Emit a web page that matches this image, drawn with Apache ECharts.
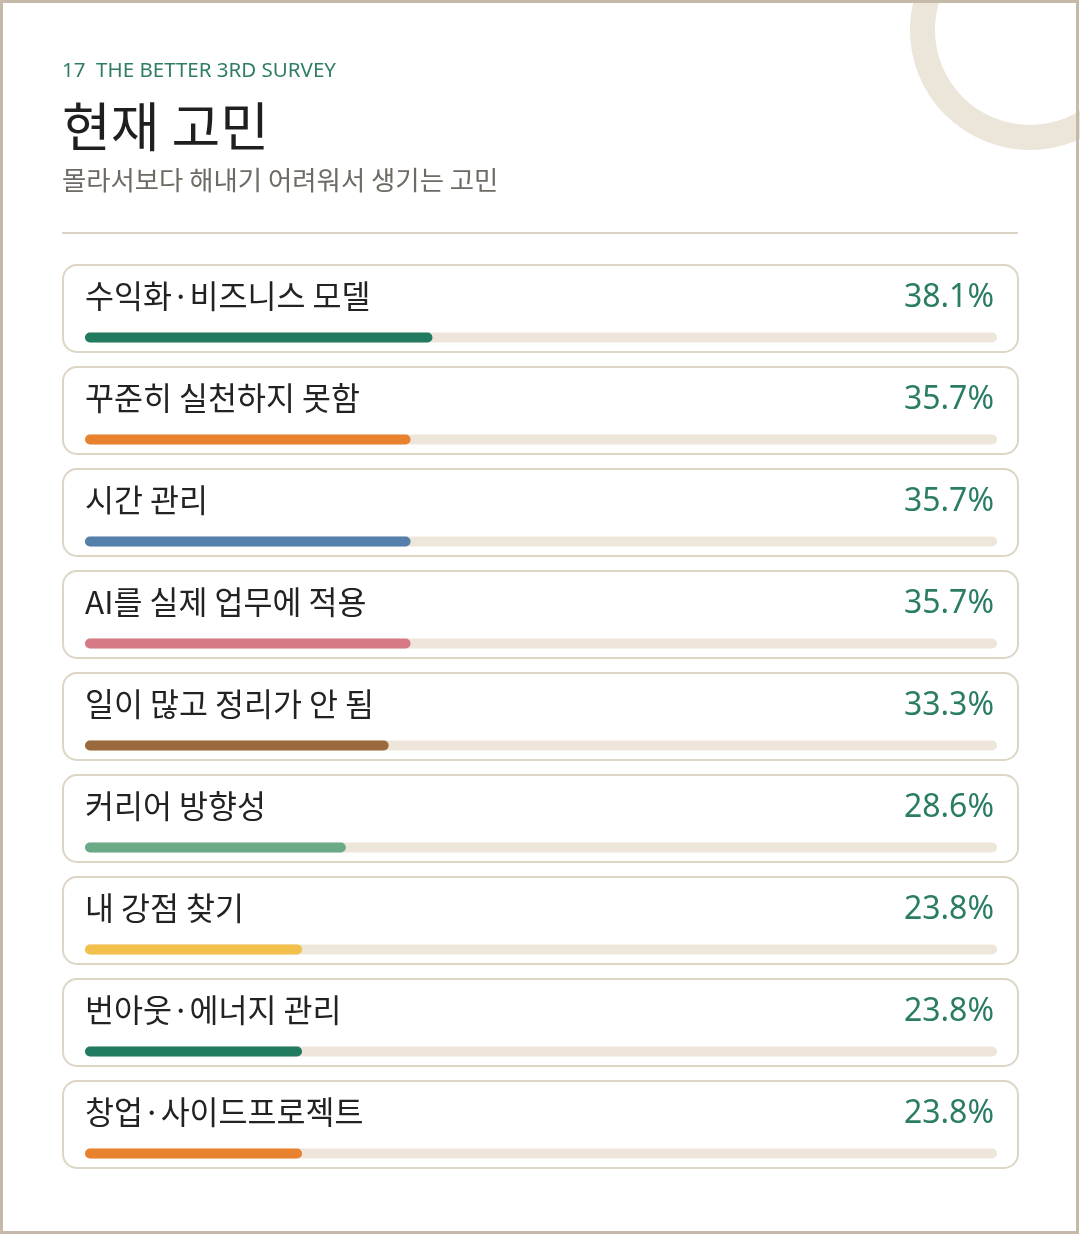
<!DOCTYPE html>
<html>
<head>
<meta charset="utf-8">
<script src="https://cdn.jsdelivr.net/npm/echarts@6/dist/echarts.min.js"></script>
<style>
  html, body { margin: 0; padding: 0; background: #ffffff; }
  #chart { width: 1080px; height: 1236px; }
</style>
</head>
<body>
<div id="chart"></div>
<script>
// 고민 항목
var categories = [
    '수익화·비즈니스 모델',
    '꾸준히 실천하지 못함',
    '시간 관리',
    'AI를 실제 업무에 적용',
    '일이 많고 정리가 안 됨',
    '커리어 방향성',
    '내 강점 찾기',
    '번아웃·에너지 관리',
    '창업·사이드프로젝트'
];
// 응답 비율 (%)
var values = [38.1, 35.7, 35.7, 35.7, 33.3, 28.6, 23.8, 23.8, 23.8];
var barColors = ['#227a61', '#e8822f', '#5580ab', '#d77a88', '#9a6a3c', '#6aaa86', '#f2c04b', '#227a61', '#e8822f'];

var kr = '"Noto Sans CJK KR", "Noto Sans", sans-serif';
var latin = '"Noto Sans", "Open Sans", sans-serif';

var chart = echarts.init(document.getElementById('chart'));

// 카드 배경
var cards = [];
for (var i = 0; i < categories.length; i++) {
    cards.push({
        type: 'rect',
        shape: { x: 63, y: 265 + i * 102, width: 955, height: 87, r: 14 },
        style: { fill: '#ffffff', stroke: '#ddd5c6', lineWidth: 2 }
    });
}

var graphics = [
    {
        type: 'circle',
        shape: { cx: 1030, cy: 30, r: 107.5 },
        style: { fill: 'none', stroke: '#ece5da', lineWidth: 25 }
    },
    {
        type: 'rect',
        shape: { x: 1.5, y: 1.5, width: 1076, height: 1231 },
        style: { fill: 'none', stroke: '#c5baa9', lineWidth: 3 }
    },
    {
        type: 'text',
        left: 62, top: 61,
        style: { text: '17  THE BETTER 3RD SURVEY', fill: '#2f7d66', font: '20.5px ' + latin }
    },
    {
        type: 'text',
        left: 62, top: 100,
        style: { text: '현재 고민', fill: '#1f1f1f', font: '53px ' + kr }
    },
    {
        type: 'text',
        left: 62, top: 167,
        style: { text: '몰라서보다 해내기 어려워서 생기는 고민', fill: '#6e6a64', font: '26.4px ' + kr }
    },
    {
        type: 'line',
        shape: { x1: 62, y1: 233, x2: 1018, y2: 233 },
        style: { stroke: '#dcd3c6', lineWidth: 2 }
    }
].concat(cards);

var option = {
    animation: false,
    graphic: graphics,
    grid: { left: 85, right: 83, top: 286.5, height: 918, containLabel: false },
    xAxis: { type: 'value', min: 0, max: 100, show: false },
    yAxis: [{
        type: 'category',
        data: categories,
        inverse: true,
        position: 'left',
        axisLine: { show: false },
        axisTick: { show: false },
        axisLabel: {
            inside: true,
            interval: 0,
            margin: 0,
            color: '#222222',
            fontSize: 31.5,
            fontFamily: kr,
            verticalAlign: 'bottom',
            lineHeight: 83
        }
    }, {
        type: 'category',
        data: categories,
        inverse: true,
        position: 'right',
        axisLine: { show: false },
        axisTick: { show: false },
        axisLabel: {
            inside: true,
            interval: 0,
            margin: 3,
            color: '#2a7d64',
            fontSize: 32,
            fontFamily: latin,
            verticalAlign: 'bottom',
            lineHeight: 80,
            formatter: function(v, idx) {
                return values[idx].toFixed(1) + '%';
            }
        }
    }],
    series: [{
        type: 'bar',
        yAxisIndex: 0,
        barWidth: 10,
        showBackground: true,
        backgroundStyle: { color: '#eee6da', borderRadius: 5 },
        itemStyle: {
            borderRadius: 5,
            color: function(p) { return barColors[p.dataIndex]; }
        },
        data: values
    }]
};
chart.setOption(option);
</script>
</body>
</html>
